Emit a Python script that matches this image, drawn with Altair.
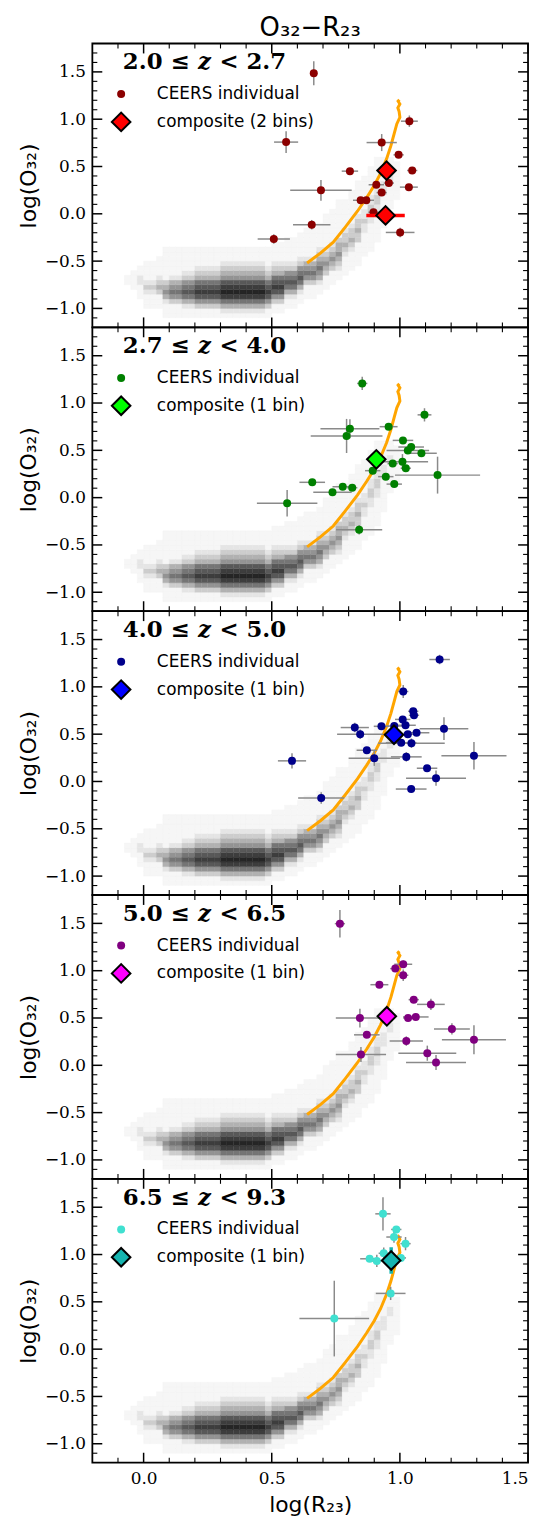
import altair as alt
import pandas as pd

W, H = 439, 286
X_DOMAIN = [-0.2, 1.5]
Y_DOMAIN = [-1.2, 1.8]

# panel labels "a ≤ z < b" (z set in italics)
label_lo = ["2.0 ≤", "2.7 ≤", "4.0 ≤", "5.0 ≤", "6.5 ≤"]
label_var = "z"
label_hi = ["< 2.7", "< 4.0", "< 5.0", "< 6.5", "< 9.3"]
ind_colors = ["#8b0000", "#008000", "#00008b", "#800080", "#40e0d0"]
comp_colors = ["#ff0000", "#00ff00", "#0000ff", "#ff00ff", "#17b5b0"]
comp_labels = ["composite (2 bins)", "composite (1 bin)", "composite (1 bin)",
               "composite (1 bin)", "composite (1 bin)"]
ind_label = "CEERS individual"

# ---- individual galaxies ----
p1_x = [0.664, 0.556, 0.692, 0.805, 0.656, 0.508, 1.037, 0.929, 0.995, 1.048, 0.957, 0.908, 0.929, 1.035, 0.847, 0.869, 0.897, 1.001]
p1_y = [1.486, 0.758, 0.248, 0.451, -0.115, -0.266, 0.979, 0.753, 0.623, 0.458, 0.325, 0.307, 0.224, 0.282, 0.143, 0.143, 0.017, -0.197]
p1_xerr = [0.01, 0.047, 0.12, 0.032, 0.073, 0.063, 0.033, 0.059, 0.02, 0.02, 0.02, 0.03, 0.02, 0.035, 0.03, 0.03, 0.02, 0.056]
p1_yerr = [0.126, 0.115, 0.11, 0.03, 0.05, 0.05, 0.06, 0.09, 0.03, 0.03, 0.03, 0.03, 0.03, 0.03, 0.03, 0.03, 0.03, 0.05]

p2_x = [0.853, 1.096, 0.956, 0.805, 0.792, 1.012, 1.044, 1.031, 1.084, 0.972, 1.010, 1.023, 0.894, 0.945, 0.978, 1.147, 0.658, 0.777, 0.814, 0.737, 0.560, 0.841]
p2_y = [1.207, 0.875, 0.750, 0.728, 0.652, 0.605, 0.535, 0.499, 0.469, 0.360, 0.380, 0.311, 0.285, 0.222, 0.143, 0.238, 0.162, 0.115, 0.105, 0.058, -0.060, -0.339]
p2_xerr = [0.02, 0.027, 0.035, 0.115, 0.14, 0.04, 0.05, 0.083, 0.06, 0.02, 0.10, 0.02, 0.03, 0.03, 0.03, 0.166, 0.05, 0.04, 0.02, 0.075, 0.118, 0.09]
p2_yerr = [0.07, 0.07, 0.03, 0.10, 0.18, 0.03, 0.03, 0.03, 0.03, 0.03, 0.08, 0.03, 0.03, 0.03, 0.03, 0.195, 0.03, 0.03, 0.03, 0.03, 0.14, 0.05]

p3_x = [1.155, 1.013, 1.052, 1.055, 1.011, 1.022, 0.928, 0.824, 1.172, 0.845, 0.978, 1.031, 1.065, 1.005, 1.045, 0.871, 1.025, 0.900, 1.289, 0.579, 1.106, 1.141, 1.044, 0.693]
p3_y = [1.289, 0.951, 0.742, 0.700, 0.656, 0.594, 0.583, 0.570, 0.558, 0.500, 0.586, 0.500, 0.515, 0.410, 0.405, 0.330, 0.260, 0.245, 0.272, 0.218, 0.140, 0.035, -0.080, -0.175]
p3_xerr = [0.04, 0.02, 0.02, 0.02, 0.03, 0.04, 0.03, 0.055, 0.095, 0.09, 0.03, 0.04, 0.05, 0.06, 0.13, 0.04, 0.06, 0.10, 0.127, 0.055, 0.04, 0.117, 0.06, 0.09]
p3_yerr = [0.05, 0.07, 0.03, 0.03, 0.03, 0.03, 0.03, 0.05, 0.12, 0.05, 0.03, 0.03, 0.03, 0.03, 0.05, 0.03, 0.05, 0.08, 0.145, 0.08, 0.03, 0.08, 0.03, 0.06]

p4_x = [0.766, 1.013, 0.982, 1.013, 0.920, 1.054, 1.121, 0.844, 1.032, 1.062, 1.203, 0.871, 1.025, 1.289, 0.848, 1.107, 1.141]
p4_y = [1.497, 1.068, 1.022, 0.952, 0.852, 0.694, 0.644, 0.499, 0.501, 0.511, 0.385, 0.322, 0.256, 0.270, 0.114, 0.128, 0.030]
p4_xerr = [0.02, 0.035, 0.02, 0.02, 0.035, 0.02, 0.054, 0.094, 0.02, 0.05, 0.07, 0.05, 0.065, 0.125, 0.098, 0.113, 0.117]
p4_yerr = [0.145, 0.04, 0.03, 0.06, 0.03, 0.03, 0.06, 0.10, 0.03, 0.03, 0.06, 0.03, 0.05, 0.154, 0.08, 0.08, 0.08]

p5_x = [0.934, 0.986, 0.977, 1.022, 0.937, 0.882, 0.910, 1.004, 0.964, 0.744]
p5_y = [1.430, 1.265, 1.185, 1.115, 1.013, 0.955, 0.932, 0.964, 0.589, 0.323]
p5_xerr = [0.03, 0.02, 0.03, 0.02, 0.02, 0.037, 0.03, 0.02, 0.058, 0.136]
p5_yerr = [0.175, 0.03, 0.06, 0.07, 0.06, 0.03, 0.065, 0.03, 0.07, 0.40]

# ---- composites ----
c1_x, c1_y, c1_xerr, c1_yerr = [0.948, 0.944], [0.457, -0.017], [0.03, 0.075], [0.02, 0.02]
c2_x, c2_y, c2_xerr, c2_yerr = [0.908], [0.405], [0.03], [0.02]
c3_x, c3_y, c3_xerr, c3_yerr = [0.977], [0.494], [0.03], [0.02]
c4_x, c4_y, c4_xerr, c4_yerr = [0.949], [0.518], [0.03], [0.04]
c5_x, c5_y, c5_xerr, c5_yerr = [0.966], [0.937], [0.015], [0.14]

# ---- orange model track ----
curve_x = [0.638, 0.690, 0.740, 0.787, 0.835, 0.870, 0.900, 0.925, 0.948, 0.965, 0.978, 0.988, 1.000, 0.997, 0.992, 1.000, 0.993, 0.998]
curve_y = [-0.520, -0.415, -0.300, -0.140, 0.030, 0.170, 0.300, 0.430, 0.580, 0.720, 0.850, 0.950, 1.020, 1.080, 1.120, 1.160, 1.190, 1.205]

# ---- SDSS density background: columns of grey levels (start row, levels bottom->top) ----
dens_x_start, dens_dx = -0.10, 0.025
dens_y_start, dens_dy = -1.15, 0.05
dens_cols = [
    (0, ""),
    (8, "11"),
    (7, "1111"),
    (5, "1112211"),
    (3, "1112321111"),
    (3, "1112321111"),
    (3, "11134321111"),
    (1, "111245431111111"),
    (1, "111356542111111"),
    (1, "111356542111111"),
    (1, "112467653211111"),
    (1, "112467653211111"),
    (1, "113578764321111"),
    (1, "113578764321111"),
    (1, "113578764321111"),
    (1, "113578764321111"),
    (1, "124689875432111"),
    (1, "124689875432111"),
    (1, "124689875432111"),
    (1, "124689875432111"),
    (1, "124689875432111"),
    (1, "124689875432111"),
    (1, "124689875432111"),
    (1, "113578764321111"),
    (2, "113578764321111"),
    (2, "113578764321111"),
    (3, "112467653211111"),
    (3, "112467653211111"),
    (4, "112467653211111"),
    (5, "111356542111111"),
    (5, "111356542111111"),
    (6, "112456543211111"),
    (7, "1113454321111111"),
    (8, "1113454321111111"),
    (9, "11234544311111111"),
    (10, "1111234332111111"),
    (11, "11112343321111111"),
    (12, "111113343321111111"),
    (14, "11111223221111111"),
    (15, "111111223322111111"),
    (17, "111111223322111111"),
    (20, "111111122211111"),
    (24, "11111122111"),
    (26, "11111111"),
]
grey_levels = [1, 2, 3, 4, 5, 6, 7, 8, 9]
grey_colors = ["#f6f6f6", "#e5e5e5", "#cdcdcd", "#b1b1b1", "#939393",
               "#757575", "#585858", "#3d3d3d", "#252525"]

# ---- axis ticks ----
x_major = [0.0, 0.5, 1.0, 1.5]
x_minor = [-0.1, 0.1, 0.2, 0.3, 0.4, 0.6, 0.7, 0.8, 0.9, 1.1, 1.2, 1.3, 1.4]
y_major = [-1.0, -0.5, 0.0, 0.5, 1.0, 1.5]
y_minor = [-1.1, -0.9, -0.8, -0.7, -0.6, -0.4, -0.3, -0.2, -0.1, 0.1, 0.2, 0.3, 0.4,
           0.6, 0.7, 0.8, 0.9, 1.1, 1.2, 1.3, 1.4, 1.6, 1.7]

# ---- build tables ----
rows = []
for j, (r0, digits) in enumerate(dens_cols):
    for k, ch in enumerate(digits):
        lvl = int(ch)
        if lvl == 0:
            continue
        r = r0 + k
        x0 = dens_x_start + j * dens_dx
        y0 = dens_y_start + r * dens_dy
        rows.append({"x0": x0, "x1": x0 + dens_dx, "y0": y0, "y1": y0 + dens_dy, "lvl": lvl})
dens_df = pd.DataFrame(rows)
curve_df = pd.DataFrame({"x": curve_x, "y": curve_y, "i": list(range(len(curve_x)))})

inds = [(p1_x, p1_y, p1_xerr, p1_yerr), (p2_x, p2_y, p2_xerr, p2_yerr),
        (p3_x, p3_y, p3_xerr, p3_yerr), (p4_x, p4_y, p4_xerr, p4_yerr),
        (p5_x, p5_y, p5_xerr, p5_yerr)]
comps = [(c1_x, c1_y, c1_xerr, c1_yerr), (c2_x, c2_y, c2_xerr, c2_yerr),
         (c3_x, c3_y, c3_xerr, c3_yerr), (c4_x, c4_y, c4_xerr, c4_yerr),
         (c5_x, c5_y, c5_xerr, c5_yerr)]


def err_df(x, y, xe, ye):
    return pd.DataFrame({
        "x": x, "y": y,
        "xlo": [a - b for a, b in zip(x, xe)], "xhi": [a + b for a, b in zip(x, xe)],
        "ylo": [a - b for a, b in zip(y, ye)], "yhi": [a + b for a, b in zip(y, ye)],
    })


grey_scale = alt.Scale(domain=grey_levels, range=grey_colors)
serif = "DejaVu Serif"
sans = "DejaVu Sans"


def make_panel(i):
    show_x = (i == 4)
    xs = alt.Scale(domain=X_DOMAIN, nice=False, zero=False)
    ys = alt.Scale(domain=Y_DOMAIN, nice=False, zero=False)
    if show_x:
        xaxis = alt.Axis(values=x_major, format=".1f", title="log(R₂₃)",
                         labelFont=serif, labelFontSize=17, labelPadding=8,
                         labelFlush=True, labelOverlap=False,
                         titleFont=sans, titleFontSize=22, titleFontWeight="normal",
                         titlePadding=8, ticks=False, domain=False, grid=False)
    else:
        xaxis = None
    yaxis = alt.Axis(values=y_major, format=".1f", title="log(O₃₂)",
                     labelFont=serif, labelFontSize=17, labelPadding=7,
                     labelOverlap=False,
                     titleFont=sans, titleFontSize=22, titleFontWeight="normal",
                     titlePadding=4, ticks=False, domain=False, grid=False)

    def X(f):
        return alt.X(f, type="quantitative", scale=xs, axis=xaxis)

    def Y(f):
        return alt.Y(f, type="quantitative", scale=ys, axis=yaxis)

    ind = err_df(*inds[i])
    comp = err_df(*comps[i])
    layers = []
    layers.append(alt.Chart(dens_df).mark_rect(strokeWidth=0.4).encode(
        x=X("x0"), x2="x1", y=Y("y0"), y2="y1",
        color=alt.Color("lvl:O", scale=grey_scale, legend=None),
        stroke=alt.Stroke("lvl:O", scale=grey_scale, legend=None)))
    layers.append(alt.Chart(curve_df).mark_line(color="#ffa500", strokeWidth=3).encode(
        x=X("x"), y=Y("y"), order="i:Q"))
    layers.append(alt.Chart(ind).mark_rule(color="#8a8a8a", strokeWidth=1.5).encode(
        x=X("xlo"), x2="xhi", y=Y("y")))
    layers.append(alt.Chart(ind).mark_rule(color="#8a8a8a", strokeWidth=1.5).encode(
        x=X("x"), y=Y("ylo"), y2="yhi"))
    layers.append(alt.Chart(ind).mark_circle(size=65, opacity=1, color=ind_colors[i]).encode(
        x=X("x"), y=Y("y")))
    layers.append(alt.Chart(comp).mark_rule(color=comp_colors[i], strokeWidth=3.5).encode(
        x=X("xlo"), x2="xhi", y=Y("y")))
    layers.append(alt.Chart(comp).mark_rule(color=comp_colors[i], strokeWidth=3.5).encode(
        x=X("x"), y=Y("ylo"), y2="yhi"))
    layers.append(alt.Chart(comp).mark_point(shape="diamond", filled=True, size=350,
                                             fill=comp_colors[i], stroke="black",
                                             strokeWidth=2, opacity=1, fillOpacity=1).encode(
        x=X("x"), y=Y("y")))
    # inward ticks on all four sides
    for vals, ln, sw in [(x_major, 10, 1.5), (x_minor, 5, 1.1)]:
        df = pd.DataFrame({"v": vals})
        layers.append(alt.Chart(df).mark_rule(color="black", strokeWidth=sw).encode(
            x=X("v"), y=alt.value(H), y2=alt.value(H - ln)))
        layers.append(alt.Chart(df).mark_rule(color="black", strokeWidth=sw).encode(
            x=X("v"), y=alt.value(0), y2=alt.value(ln)))
    for vals, ln, sw in [(y_major, 10, 1.5), (y_minor, 5, 1.1)]:
        df = pd.DataFrame({"v": vals})
        layers.append(alt.Chart(df).mark_rule(color="black", strokeWidth=sw).encode(
            y=Y("v"), x=alt.value(0), x2=alt.value(ln)))
        layers.append(alt.Chart(df).mark_rule(color="black", strokeWidth=sw).encode(
            y=Y("v"), x=alt.value(W), x2=alt.value(W - ln)))
    # panel label (bold, italic z) and legend
    lab = pd.DataFrame({"lo": [label_lo[i]], "z": [label_var], "hi": [label_hi[i]]})
    layers.append(alt.Chart(lab).mark_text(align="right", baseline="middle", font=serif,
                                           fontSize=23, fontWeight="bold", color="black").encode(
        x=alt.value(98), y=alt.value(19), text="lo:N"))
    layers.append(alt.Chart(lab).mark_text(align="center", baseline="middle", font=serif,
                                           fontSize=23, fontWeight="bold", fontStyle="italic",
                                           color="black").encode(
        x=alt.value(113), y=alt.value(19), text="z:N"))
    layers.append(alt.Chart(lab).mark_text(align="left", baseline="middle", font=serif,
                                           fontSize=23, fontWeight="bold", color="black").encode(
        x=alt.value(128), y=alt.value(19), text="hi:N"))
    leg = pd.DataFrame({"a": [ind_label], "b": [comp_labels[i]]})
    layers.append(alt.Chart(leg).mark_circle(size=65, opacity=1, color=ind_colors[i]).encode(
        x=alt.value(29), y=alt.value(51)))
    layers.append(alt.Chart(leg).mark_point(shape="diamond", filled=True, size=350,
                                            fill=comp_colors[i], stroke="black",
                                            strokeWidth=2, opacity=1, fillOpacity=1).encode(
        x=alt.value(29), y=alt.value(79)))
    layers.append(alt.Chart(leg).mark_text(align="left", baseline="middle", font=sans,
                                           fontSize=17, color="black").encode(
        x=alt.value(65), y=alt.value(51), text="a:N"))
    layers.append(alt.Chart(leg).mark_text(align="left", baseline="middle", font=sans,
                                           fontSize=17, color="black").encode(
        x=alt.value(65), y=alt.value(79), text="b:N"))
    ch = alt.layer(*layers).properties(width=W, height=H)
    if i == 0:
        ch = ch.properties(title=alt.TitleParams("O₃₂−R₂₃", font=sans, fontSize=26,
                                                 fontWeight="normal", anchor="middle",
                                                 color="black", offset=2))
    return ch


chart = alt.vconcat(*[make_panel(i) for i in range(5)], spacing=0, bounds="flush").properties(
    padding={"left": 8, "top": 0, "right": 2, "bottom": 0}
).configure_view(stroke="black", strokeWidth=1.8).configure_axis(
    labelColor="black", titleColor="black")

chart.save("out.html", embed_options={"renderer": "svg", "actions": False})
